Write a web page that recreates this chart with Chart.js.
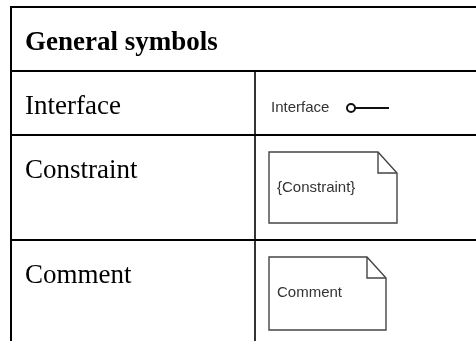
<!DOCTYPE html>
<html>
<head>
<meta charset="utf-8">
<script src="https://cdn.jsdelivr.net/npm/chart.js@4/dist/chart.umd.min.js"></script>
<style>
  html, body { margin: 0; padding: 0; background: #ffffff; }
  #wrap { width: 476px; height: 341px; }
</style>
</head>
<body>
<div id="wrap"><canvas id="c" width="476" height="341"></canvas></div>
<script>
// ---- data (text content of the table) ----
const headerTitle = 'General symbols';
const rowLabels = ['Interface', 'Constraint', 'Comment'];
const symbolKinds = ['interface', 'note', 'note'];
const symbolTexts = ['Interface', '{Constraint}', 'Comment'];

// ---- layout / styles (in scale units = canvas px) ----
const layout = {
  left: 11, top: 7, colX: 255, right: 482, bottom: 346,
  headerH: 64, rowHeights: [64, 105, 110],
  textOffset: 43, textX: 25,
  noteSizes: [null, { w: 128, h: 71 }, { w: 117, h: 73 }],
  fold: { w: 19, h: 21 }
};

const tablePlugin = {
  id: 'tablePlugin',
  afterDraw(chart) {
    const ctx = chart.ctx;
    const xs = chart.scales.x, ys = chart.scales.y;
    const X = v => xs.getPixelForValue(v);
    const Y = v => ys.getPixelForValue(v);
    ctx.save();

    // row boundaries
    const bounds = [layout.top, layout.top + layout.headerH];
    layout.rowHeights.forEach(h => bounds.push(bounds[bounds.length - 1] + h));

    ctx.strokeStyle = '#000';
    ctx.lineCap = 'butt';
    // horizontal lines
    ctx.lineWidth = 2;
    for (let i = 0; i < bounds.length - 1; i++) {
      ctx.beginPath();
      ctx.moveTo(X(layout.left - 1), Y(bounds[i]));
      ctx.lineTo(X(layout.right), Y(bounds[i]));
      ctx.stroke();
    }
    // left border
    ctx.beginPath();
    ctx.moveTo(X(layout.left), Y(layout.top - 1));
    ctx.lineTo(X(layout.left), Y(layout.bottom));
    ctx.stroke();
    // column divider
    ctx.lineWidth = 1.6;
    ctx.beginPath();
    ctx.moveTo(X(layout.colX), Y(bounds[1]));
    ctx.lineTo(X(layout.colX), Y(layout.bottom));
    ctx.stroke();

    // header text
    ctx.fillStyle = '#000';
    ctx.textBaseline = 'alphabetic';
    ctx.textAlign = 'left';
    ctx.font = 'bold 27px "Liberation Serif", "Times New Roman", serif';
    ctx.fillText(headerTitle, X(layout.textX), Y(layout.top + layout.textOffset));

    // row labels and symbols
    rowLabels.forEach((lab, i) => {
      const rTop = bounds[i + 1];
      ctx.fillStyle = '#000';
      ctx.font = '27px "Liberation Serif", "Times New Roman", serif';
      ctx.textBaseline = 'alphabetic';
      ctx.fillText(lab, X(layout.textX), Y(rTop + layout.textOffset));

      const kind = symbolKinds[i];
      ctx.font = '15px "Liberation Sans", Arial, sans-serif';
      ctx.textBaseline = 'middle';
      if (kind === 'interface') {
        const cy = rTop + 37;
        ctx.fillStyle = '#333';
        ctx.fillText(symbolTexts[i], X(layout.colX + 16), Y(cy));
        ctx.strokeStyle = '#111';
        ctx.lineWidth = 2;
        ctx.beginPath();
        ctx.arc(X(351), Y(cy), 4, 0, Math.PI * 2);
        ctx.stroke();
        ctx.beginPath();
        ctx.moveTo(X(355), Y(cy));
        ctx.lineTo(X(389), Y(cy));
        ctx.stroke();
      } else {
        const sz = layout.noteSizes[i];
        const l = layout.colX + 14, t = rTop + 17;
        const r = l + sz.w, b = t + sz.h;
        const f = layout.fold;
        ctx.strokeStyle = '#444';
        ctx.lineWidth = 1.4;
        ctx.lineJoin = 'miter';
        ctx.beginPath();
        ctx.moveTo(X(l), Y(t));
        ctx.lineTo(X(r - f.w), Y(t));
        ctx.lineTo(X(r), Y(t + f.h));
        ctx.lineTo(X(r), Y(b));
        ctx.lineTo(X(l), Y(b));
        ctx.closePath();
        ctx.stroke();
        ctx.beginPath();
        ctx.moveTo(X(r - f.w), Y(t));
        ctx.lineTo(X(r - f.w), Y(t + f.h));
        ctx.lineTo(X(r), Y(t + f.h));
        ctx.stroke();
        ctx.fillStyle = '#333';
        ctx.fillText(symbolTexts[i], X(l + 8), Y(t + 36));
      }
    });
    ctx.restore();
  }
};

new Chart(document.getElementById('c'), {
  type: 'scatter',
  data: { datasets: [{ data: [], pointRadius: 0 }] },
  options: {
    responsive: false,
    animation: false,
    devicePixelRatio: 1,
    layout: { padding: 0 },
    plugins: { legend: { display: false }, tooltip: { enabled: false } },
    scales: {
      x: { type: 'linear', min: 0, max: 476, display: false },
      y: { type: 'linear', min: 0, max: 341, reverse: true, display: false }
    }
  },
  plugins: [tablePlugin]
});
</script>
</body>
</html>
